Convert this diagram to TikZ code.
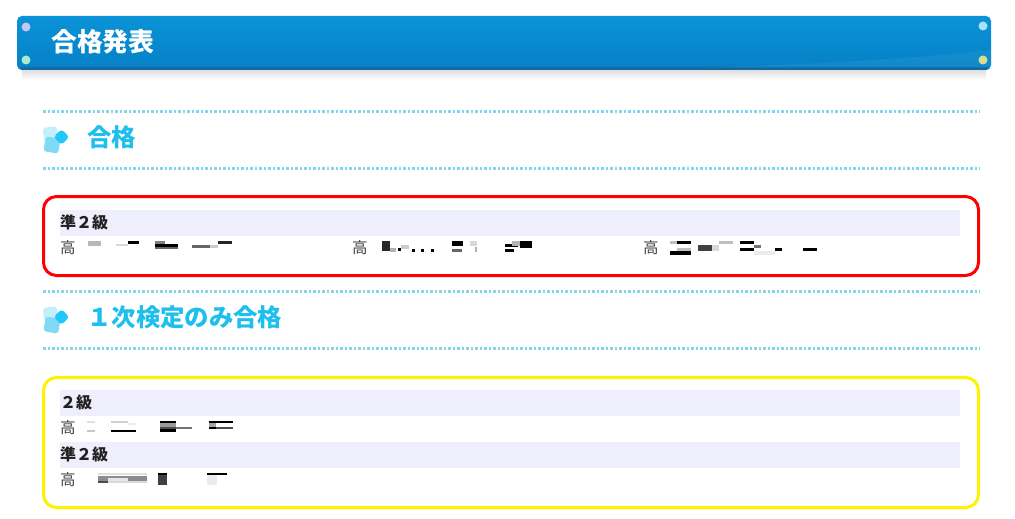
\documentclass[tikz,border=0pt]{standalone}
\usepackage{fontspec}
\newfontfamily\jp{Noto Sans CJK JP}
\definecolor{hdtop}{HTML}{0B93D7}
\definecolor{hdbot}{HTML}{0580C6}
\definecolor{hdlight}{HTML}{3AA0D8}
\definecolor{hdedge}{HTML}{1568A0}
\definecolor{dotc}{HTML}{86D4EC}
\definecolor{headc}{HTML}{1EBFEC}
\definecolor{bandc}{HTML}{EEEEFC}
\definecolor{icA}{HTML}{C3EFFD}
\definecolor{icB}{HTML}{1FC8F6}
\definecolor{icC}{HTML}{80DAF6}
\definecolor{txtc}{HTML}{222222}
\definecolor{rvA}{HTML}{C4C8F0}
\definecolor{rvB}{HTML}{A6ECCB}
\definecolor{rvC}{HTML}{A8E2F8}
\definecolor{rvD}{HTML}{D6E08C}
\tikzset{
  dotline/.style={dotc, line width=3pt, dash pattern=on 2.8pt off 1.7pt},
  sechead/.style={anchor=west, inner sep=0pt, text=headc, font=\jp\bfseries\fontsize{24.4}{27}\selectfont},
  bandtxt/.style={anchor=west, inner sep=0pt, text=txtc, font=\jp\bfseries\fontsize{16}{18}\selectfont},
  rowtxt/.style={anchor=west, inner sep=0pt, text=txtc!85, font=\jp\fontsize{15.5}{18}\selectfont},
  bandbox/.style={fill=bandc},
  redbox/.style={draw=red, line width=3pt, rounded corners=13pt},
  yelbox/.style={draw=yellow, line width=3pt, rounded corners=13pt},
  rivet/.style={circle, minimum width=7pt, minimum height=9pt, inner sep=0pt, draw=none},
  icsq/.style={rounded corners=3pt, minimum size=14pt, inner sep=0pt}
}
\begin{document}
\begin{tikzpicture}[x=1pt,y=-1pt]
\useasboundingbox (0,0) rectangle (1015,519);
% header bar with faint shadow
\shade[top color=black!14, bottom color=white] (22,69) rectangle (986,80);
\shade[top color=hdtop, bottom color=hdbot, rounded corners=5pt] (17,16) rectangle (991,70);
\fill[hdlight, opacity=0.25] (700,67.5) .. controls (830,64) and (930,57) .. (991,50) -- (991,67.5) -- cycle;
\fill[hdedge, rounded corners=2pt] (20,67.5) rectangle (988,70);
\node[rivet, fill=rvA] (r1) at (26,27) {};
\node[rivet, fill=rvB] (r2) at (26,60) {};
\node[rivet, fill=rvC] (r3) at (983,26) {};
\node[rivet, fill=rvD] (r4) at (983,60) {};
\node[anchor=west, inner sep=0pt, text=white, font=\jp\bfseries\fontsize{25.8}{28}\selectfont] (title) at (51,42) {合格発表};

% section 1
\draw[dotline] (43,111) -- (980,111);
\node[icsq, fill=icA, rotate=6] (i1a) at (50.5,134) {};
\node[icsq, fill=icC, rotate=-10, minimum size=15pt] (i1c) at (52,145) {};
\node[icsq, fill=icB, rotate=45, minimum size=11pt] (i1b) at (61.5,137) {};
\node[sechead] (h1) at (87,137) {合格};
\draw[dotline] (43,168) -- (980,168);

\draw[redbox] (43.5,196.5) rectangle (978.5,275.5);
\fill[bandbox] (60,210) rectangle (960,236);
\node[bandtxt] (b1) at (60,222.5) {準２級};
\node[rowtxt] (n1) at (60,247.5) {高};
\node[rowtxt] (n2) at (352,247.5) {高};
\node[rowtxt] (n3) at (643,247.5) {高};
% redacted names row 1
\fill[black!28] (88,241) rectangle (101,246);
\fill[black!15] (116,244) rectangle (128,245.5);
\fill[black] (128,241) rectangle (139,244);
\fill[black!50] (155,241) rectangle (165,244);
\fill[black] (155,244) rectangle (178,247);
\fill[black!60] (155,247) rectangle (178,249);
\fill[black!60] (192,245) rectangle (210,247.5);
\fill[black!20] (210,245) rectangle (218,247.5);
\fill[black!85] (218,241) rectangle (232,243.5);
\fill[black!85] (382,241) rectangle (390,251);
\fill[black!30] (390,248) rectangle (396,252);
\fill[black] (398,248) rectangle (401,251);
\fill[black!20] (401,245) rectangle (409,249);
\fill[black] (412,249) rectangle (415,252);
\fill[black] (421,249) rectangle (424,252);
\fill[black] (431,249) rectangle (434,252);
\fill[black] (452,241) rectangle (463,246);
\fill[black!60] (452,249) rectangle (462,252);
\fill[black!15] (470,241) rectangle (477,246);
\fill[black!30] (475,247) rectangle (477,252);
\fill[black] (505,244) rectangle (518,247);
\fill[black!30] (512,241) rectangle (520,246);
\fill[black] (520,241) rectangle (532,248);
\fill[black] (505,249) rectangle (514,252);
\fill[black!25] (670,241) rectangle (677,244);
\fill[black] (677,241) rectangle (691,244);
\fill[black!25] (677,248) rectangle (691,251);
\fill[black] (670,251) rectangle (691,255);
\fill[black!75] (698,245) rectangle (712,251);
\fill[black!15] (712,245) rectangle (719,251);
\fill[black!25] (719,241) rectangle (733,244);
\fill[black] (740,241) rectangle (754,244);
\fill[black] (740,248) rectangle (754,251);
\fill[black!55] (754,245) rectangle (761,248);
\fill[black!8] (754,251) rectangle (775,255);
\fill[black] (775,248) rectangle (782,251);
\fill[black] (803,248) rectangle (817,251);

% section 2
\draw[dotline] (43,291) -- (980,291);
\node[icsq, fill=icA, rotate=6] (i2a) at (50.5,314) {};
\node[icsq, fill=icC, rotate=-10, minimum size=15pt] (i2c) at (52,325) {};
\node[icsq, fill=icB, rotate=45, minimum size=11pt] (i2b) at (61.5,317) {};
\node[sechead] (h2) at (87,317) {１次検定のみ合格};
\draw[dotline] (43,348) -- (980,348);

\draw[yelbox] (43.5,377.5) rectangle (978.5,507.5);
\fill[bandbox] (60,390) rectangle (960,416);
\node[bandtxt] (b2) at (60,402.5) {２級};
\node[rowtxt] (n4) at (60,427.5) {高};
\fill[black!12] (87,421) rectangle (95,423);
\fill[black!22] (87,430) rectangle (95,432);
\fill[black!18] (111,421) rectangle (128,423);
\fill[black!8] (128,423) rectangle (136,425);
\fill[black] (111,430) rectangle (136,432);
\fill[black] (160,421) rectangle (176,423);
\fill[black!40] (160,423) rectangle (176,427);
\fill[black!55] (176,427) rectangle (192,429);
\fill[black!70] (160,427) rectangle (176,429);
\fill[black] (160,429) rectangle (176,432);
\fill[black] (209,421) rectangle (233,422.5);
\fill[black!35] (209,423) rectangle (216,427);
\fill[black] (209,427) rectangle (216,429);
\fill[black!70] (216,427) rectangle (233,429);
\fill[bandbox] (60,442) rectangle (960,468);
\node[bandtxt] (b3) at (60,454.5) {準２級};
\node[rowtxt] (n5) at (60,479.5) {高};
\fill[black!12] (98,473) rectangle (147,475);
\fill[black!45] (98,476) rectangle (147,481);
\fill[black!10] (108,478) rectangle (128,481);
\fill[black!70] (98,481) rectangle (108,483);
\fill[black!15] (108,481) rectangle (147,483);
\fill[black] (158,473) rectangle (167,475);
\fill[black!75] (158,475) rectangle (167,485);
\fill[black] (207,473) rectangle (227,475);
\fill[black!8] (207,475) rectangle (217,485);
\end{tikzpicture}
\end{document}
